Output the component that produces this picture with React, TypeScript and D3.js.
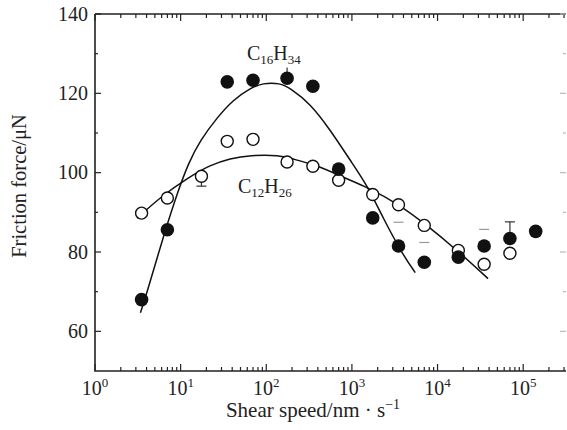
import React, { useRef, useEffect } from 'react';
import * as d3 from 'd3';

// shear speeds (nm/s) of the measurements
// C16H34 (filled)
const c16Speed = [3.5, 7, 35, 70, 175, 350, 700, 1750, 3500, 7000, 17500, 35000, 70000, 140000];
const c16Force = [68.0, 85.6, 122.9, 123.3, 123.8, 121.8, 100.9, 88.6, 81.5, 77.4, 78.7, 81.5, 83.4, 85.2];

// C12H26 (open)
const c12Speed = [3.5, 7, 17.5, 35, 70, 175, 350, 700, 1750, 3500, 7000, 17500, 35000, 70000];
const c12Force = [89.8, 93.6, 99.1, 107.9, 108.4, 102.7, 101.6, 98.1, 94.5, 91.9, 86.7, 80.4, 76.9, 79.7];

// fitted curves as (log10 speed, force)
const c16FitLog = [0.53, 0.58, 0.82, 0.96, 1.09, 1.23, 1.43, 1.61, 1.81, 1.96, 2.16, 2.28, 2.51, 2.75, 2.98, 3.18, 3.36, 3.6, 3.74];
const c16FitForce = [64.7, 67.8, 85.5, 94.8, 102.4, 108.2, 114.0, 118.3, 121.3, 122.6, 122.6, 121.3, 117.5, 110.7, 103.1, 96.8, 88.7, 79.1, 74.8];
const c12FitLog = [0.49, 0.79, 1.08, 1.34, 1.58, 1.81, 2.16, 2.28, 2.59, 2.9, 3.18, 3.53, 3.88, 4.23, 4.59];
const c12FitForce = [88.5, 94.3, 98.6, 101.9, 103.6, 104.4, 104.4, 103.6, 101.9, 98.8, 96.3, 92.3, 86.7, 80.4, 73.3];

// error bars drawn solid: speed, from, to
const errSpeed = [17.5, 70000, 175];
const errFrom = [99.1, 83.4, 123.8];
const errTo = [96.6, 87.6, 126.5];

// faint caps
const capSpeed = [3500, 7000, 35000];
const capForce = [87.5, 82.4, 85.7];

const yTicks = [60, 80, 100, 120, 140];
const xExponents = [0, 1, 2, 3, 4, 5];

const W = 567;
const H = 430;

const App = () => {
    const svgRef = useRef(null);

    useEffect(() => {
        const svg = d3.select(svgRef.current);
        svg.selectAll('*').remove();

        const left = 95, right = 566, top = 14, bottom = 371;
        const x = d3.scaleLog().domain([1, Math.pow(10, 5.5)]).range([left, right]);
        const y = d3.scaleLinear().domain([50, 140]).range([bottom, top]);
        const font = '"Liberation Serif", "Times New Roman", serif';

        // frame: left, bottom, top
        svg.append('path')
            .attr('d', `M${left},${top}H${right}M${left},${top}V${bottom}H${right}`)
            .attr('fill', 'none')
            .attr('stroke', '#222')
            .attr('stroke-width', 1.6);

        // x ticks (inward) on bottom and top
        const minor = [];
        for (let e = 0; e < 6; e++) {
            for (let m = 2; m <= 9; m++) {
                const v = m * Math.pow(10, e);
                if (v < Math.pow(10, 5.5)) minor.push(v);
            }
        }
        [bottom, top].forEach(edge => {
            const dir = edge === bottom ? -1 : 1;
            svg.append('g').selectAll('line')
                .data(minor)
                .join('line')
                .attr('x1', d => x(d)).attr('x2', d => x(d))
                .attr('y1', edge).attr('y2', edge + dir * 4)
                .attr('stroke', '#222').attr('stroke-width', 1.2);
            svg.append('g').selectAll('line')
                .data(xExponents)
                .join('line')
                .attr('x1', d => x(Math.pow(10, d))).attr('x2', d => x(Math.pow(10, d)))
                .attr('y1', edge).attr('y2', edge + dir * 7)
                .attr('stroke', '#222').attr('stroke-width', 1.2);
        });

        // y ticks (inward) on left, faint on right
        const yMinor = [70, 90, 110, 130];
        [left, right].forEach(edge => {
            const dir = edge === left ? 1 : -1;
            const col = edge === left ? '#222' : '#bbb';
            svg.append('g').selectAll('line')
                .data(yTicks)
                .join('line')
                .attr('x1', edge).attr('x2', edge + dir * 6)
                .attr('y1', d => y(d)).attr('y2', d => y(d))
                .attr('stroke', col).attr('stroke-width', 1.2);
            svg.append('g').selectAll('line')
                .data(yMinor)
                .join('line')
                .attr('x1', edge).attr('x2', edge + dir * 3)
                .attr('y1', d => y(d)).attr('y2', d => y(d))
                .attr('stroke', col).attr('stroke-width', 1.2);
        });

        // y tick labels
        svg.append('g').selectAll('text')
            .data(yTicks)
            .join('text')
            .attr('x', 88)
            .attr('y', d => y(d))
            .attr('dy', '0.34em')
            .attr('text-anchor', 'end')
            .attr('font-family', font)
            .attr('font-size', 20)
            .attr('fill', '#222')
            .text(d => d);

        // x tick labels 10^n
        const xl = svg.append('g').selectAll('text')
            .data(xExponents)
            .join('text')
            .attr('x', d => x(Math.pow(10, d)))
            .attr('y', 395)
            .attr('text-anchor', 'middle')
            .attr('font-family', font)
            .attr('font-size', 20)
            .attr('fill', '#222');
        xl.append('tspan').text('10');
        xl.append('tspan').attr('dy', -8).attr('font-size', 13).text(d => d);

        // axis titles
        const xt = svg.append('text')
            .attr('x', 313).attr('y', 417)
            .attr('text-anchor', 'middle')
            .attr('font-family', font)
            .attr('font-size', 21)
            .attr('fill', '#222');
        xt.append('tspan').text('Shear speed/nm \u00b7 s');
        xt.append('tspan').attr('dy', -8).attr('font-size', 14).text('\u22121');

        svg.append('text')
            .attr('transform', 'translate(26,186) rotate(-90)')
            .attr('text-anchor', 'middle')
            .attr('font-family', font)
            .attr('font-size', 20.5)
            .attr('fill', '#222')
            .text('Friction force/\u03bcN');

        // fitted curves
        const line = d3.line()
            .x(d => x(Math.pow(10, d[0])))
            .y(d => y(d[1]))
            .curve(d3.curveBasis);
        [[c16FitLog, c16FitForce], [c12FitLog, c12FitForce]].forEach(([ls, fs]) => {
            svg.append('path')
                .attr('d', line(ls.map((l, i) => [l, fs[i]])))
                .attr('fill', 'none')
                .attr('stroke', '#111')
                .attr('stroke-width', 1.5);
        });

        // faint caps
        svg.append('g').selectAll('line')
            .data(capSpeed.map((s, i) => [s, capForce[i]]))
            .join('line')
            .attr('x1', d => x(d[0]) - 5).attr('x2', d => x(d[0]) + 5)
            .attr('y1', d => y(d[1])).attr('y2', d => y(d[1]))
            .attr('stroke', '#999').attr('stroke-width', 1.2);

        // error bars
        const eb = svg.append('g');
        errSpeed.forEach((s, i) => {
            eb.append('line')
                .attr('x1', x(s)).attr('x2', x(s))
                .attr('y1', y(errFrom[i])).attr('y2', y(errTo[i]))
                .attr('stroke', '#333').attr('stroke-width', 1.2);
            if (i < 2) {
                eb.append('line')
                    .attr('x1', x(s) - 5).attr('x2', x(s) + 5)
                    .attr('y1', y(errTo[i])).attr('y2', y(errTo[i]))
                    .attr('stroke', '#333').attr('stroke-width', 1.2);
            }
        });

        // open markers
        svg.append('g').selectAll('circle')
            .data(c12Speed.map((s, i) => [s, c12Force[i]]))
            .join('circle')
            .attr('cx', d => x(d[0]))
            .attr('cy', d => y(d[1]))
            .attr('r', 6)
            .attr('fill', '#fff')
            .attr('stroke', '#111')
            .attr('stroke-width', 1.4);

        // filled markers
        svg.append('g').selectAll('circle')
            .data(c16Speed.map((s, i) => [s, c16Force[i]]))
            .join('circle')
            .attr('cx', d => x(d[0]))
            .attr('cy', d => y(d[1]))
            .attr('r', 6.8)
            .attr('fill', '#111');

        // series labels
        const addLabel = (px, py, sub1, sub2) => {
            const t = svg.append('text')
                .attr('x', px).attr('y', py)
                .attr('font-family', font)
                .attr('font-size', 20)
                .attr('fill', '#222');
            t.append('tspan').text('C');
            t.append('tspan').attr('dy', 4).attr('font-size', 13).text(sub1);
            t.append('tspan').attr('dy', -4).text('H');
            t.append('tspan').attr('dy', 4).attr('font-size', 13).text(sub2);
        };
        addLabel(247, 60, '16', '34');
        addLabel(238, 193, '12', '26');
    }, []);

    return (
        <svg ref={svgRef} width={W} height={H}
            style={{ position: 'absolute', left: 0, top: 0, background: '#fff' }} />
    );
};

export default App;
